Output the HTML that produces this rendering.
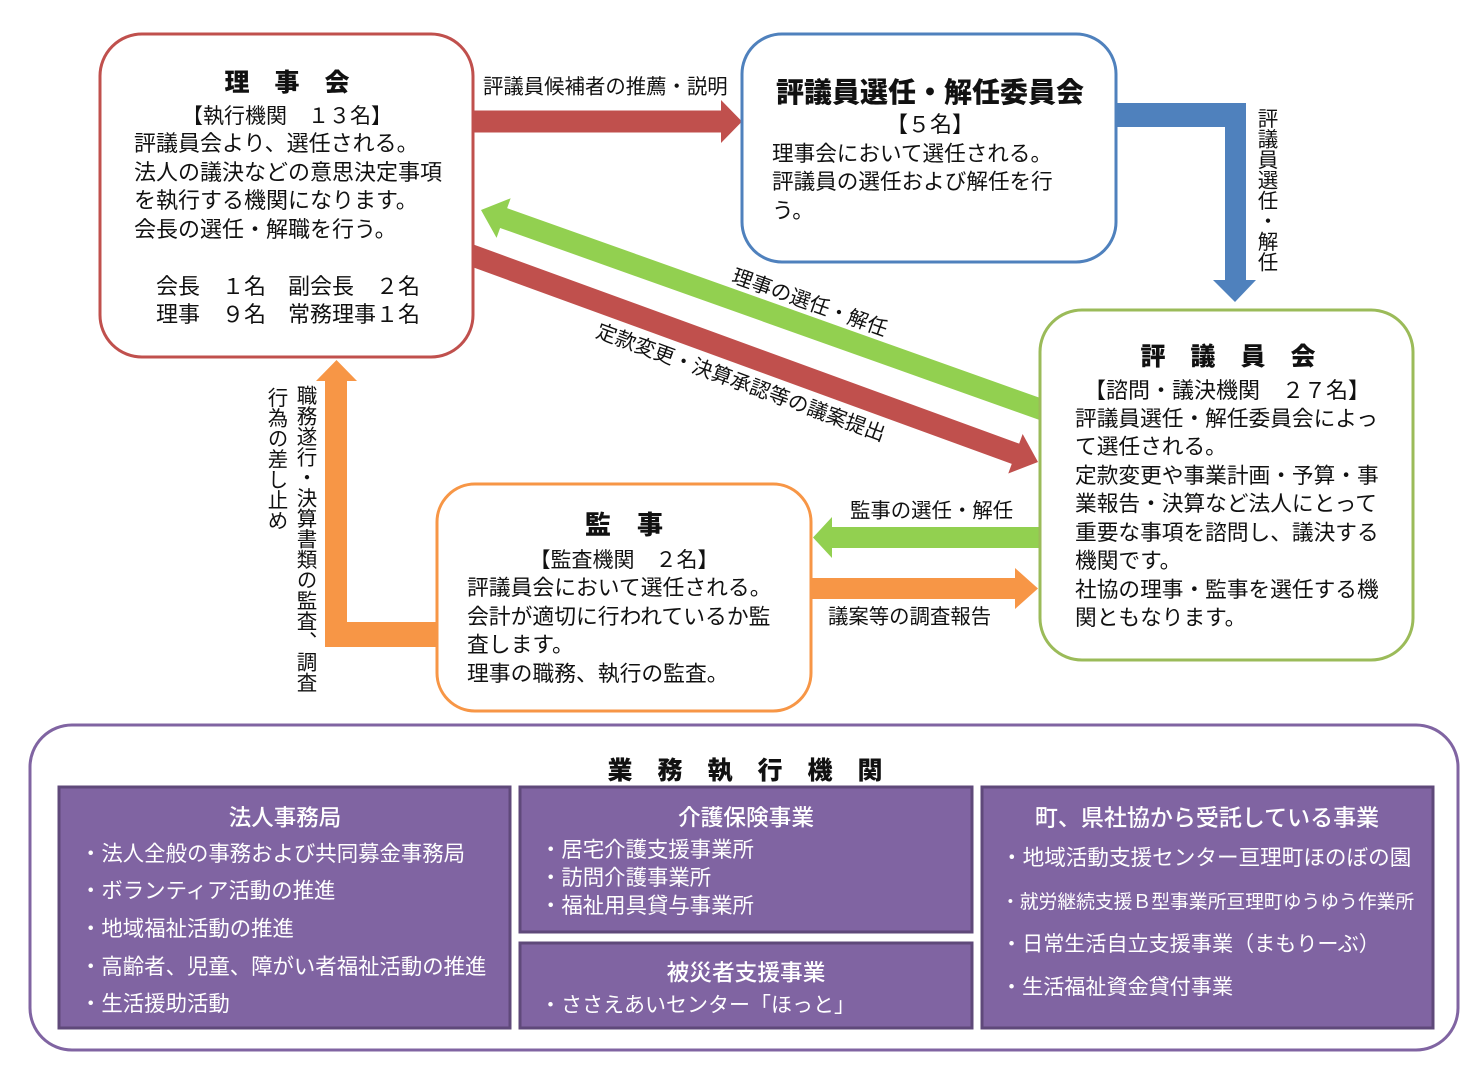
<!DOCTYPE html>
<html><head><meta charset="utf-8">
<style>
html,body{margin:0;padding:0;background:#fff;}
body{width:1483px;height:1089px;overflow:hidden;position:relative;font-family:"Liberation Sans","Noto Sans CJK JP",sans-serif;}
svg{position:absolute;left:0;top:0;}
svg text{font-family:"Liberation Sans","Noto Sans CJK JP",sans-serif;}
.v{position:absolute;writing-mode:vertical-rl;font-size:20.5px;line-height:21px;white-space:nowrap;color:#111;font-family:"Liberation Sans","Noto Sans CJK JP",sans-serif;}
</style></head>
<body>
<svg width="1483" height="1089" viewBox="0 0 1483 1089">
  <!-- arrows -->
  <polygon fill="#c0504d" points="465,110.5 721,110.5 721,100 742,121.5 721,143 721,132.5 465,132.5"/>
  <polygon fill="#4f81bd" points="1110,103 1246,103 1246,280 1256,280 1235,302 1213,280 1225,280 1225,127 1110,127"/>
  <polygon fill="#92d050" transform="translate(481,210) rotate(19.6)" points="0,0 24,-21 24,-10.5 600,-10.5 600,10.5 24,10.5 24,21"/>
  <polygon fill="#c0504d" transform="translate(1038,462) rotate(20.05)" points="0,0 -24,-21 -24,-10.8 -610,-10.8 -610,10.8 -24,10.8 -24,21"/>
  <polygon fill="#f79646" points="336.5,360 357,381 347,381 347,622 445,622 445,647 325,647 325,381 316,381"/>
  <polygon fill="#92d050" points="813,537.5 832,517 832,527 1048,527 1048,548 832,548 832,558"/>
  <polygon fill="#f79646" points="805,578 1015,578 1015,568 1038,588.5 1015,609 1015,599 805,599"/>

  <!-- boxes -->
  <rect x="100" y="34" width="373" height="323" rx="42" ry="42" fill="#fff" stroke="#c0504d" stroke-width="3"/>
  <rect x="742" y="34" width="374" height="228" rx="40" ry="40" fill="#fff" stroke="#4f81bd" stroke-width="3"/>
  <rect x="1040" y="310" width="373" height="350" rx="42" ry="42" fill="#fff" stroke="#9bbb59" stroke-width="3"/>
  <rect x="437" y="484" width="374" height="227" rx="38" ry="38" fill="#fff" stroke="#f79646" stroke-width="3"/>

  <!-- box1 text -->
  <g fill="#111">
    <text x="287" y="91" font-size="25" font-weight="900" text-anchor="middle">理　事　会</text>
    <text x="287" y="123" font-size="21" text-anchor="middle">【執行機関　１３名】</text>
    <g font-size="22">
      <text x="134" y="151">評議員会より、選任される。</text>
      <text x="134" y="180">法人の議決などの意思決定事項</text>
      <text x="134" y="208">を執行する機関になります。</text>
      <text x="134" y="237">会長の選任・解職を行う。</text>
      <text x="134" y="294">　会長　１名　副会長　２名</text>
      <text x="134" y="322">　理事　９名　常務理事１名</text>
    </g>
  </g>

  <!-- box2 text -->
  <g fill="#111">
    <text x="930" y="102" font-size="28" font-weight="900" text-anchor="middle">評議員選任・解任委員会</text>
    <text x="930" y="132" font-size="22" text-anchor="middle">【５名】</text>
    <g font-size="21.6">
      <text x="772" y="161">理事会において選任される。</text>
      <text x="772" y="189">評議員の選任および解任を行</text>
      <text x="772" y="218">う。</text>
    </g>
  </g>

  <!-- box3 text -->
  <g fill="#111">
    <text x="1228" y="365" font-size="25" font-weight="900" text-anchor="middle">評　議　員　会</text>
    <text x="1227" y="398" font-size="22" text-anchor="middle">【諮問・議決機関　２７名】</text>
    <g font-size="21.7">
      <text x="1075" y="426">評議員選任・解任委員会によっ</text>
      <text x="1075" y="454">て選任される。</text>
      <text x="1075" y="483">定款変更や事業計画・予算・事</text>
      <text x="1075" y="511">業報告・決算など法人にとって</text>
      <text x="1075" y="540">重要な事項を諮問し、議決する</text>
      <text x="1075" y="568">機関です。</text>
      <text x="1075" y="597">社協の理事・監事を選任する機</text>
      <text x="1075" y="625">関ともなります。</text>
    </g>
  </g>

  <!-- box4 text -->
  <g fill="#111">
    <text x="624" y="534" font-size="26" font-weight="900" text-anchor="middle">監　事</text>
    <text x="624" y="567" font-size="21" text-anchor="middle">【監査機関　２名】</text>
    <g font-size="21.8">
      <text x="467" y="595">評議員会において選任される。</text>
      <text x="467" y="624">会計が適切に行われているか監</text>
      <text x="467" y="652">査します。</text>
      <text x="467" y="681">理事の職務、執行の監査。</text>
    </g>
  </g>

  <!-- arrow labels -->
  <g fill="#111" font-size="20.4">
    <text x="483" y="93.5">評議員候補者の推薦・説明</text>
    <text x="850" y="517.5">監事の選任・解任</text>
    <text x="828" y="623.5">議案等の調査報告</text>
    <text transform="rotate(19.6 810 302)" x="810" y="309.5" text-anchor="middle">理事の選任・解任</text>
    <text transform="rotate(20.05 741 382)" x="741" y="389.5" text-anchor="middle">定款変更・決算承認等の議案提出</text>
  </g>

  <!-- bottom -->
  <rect x="30" y="725" width="1428" height="325" rx="42" ry="42" fill="#fff" stroke="#8064a2" stroke-width="3"/>
  <text x="745" y="779" font-size="25" font-weight="900" text-anchor="middle" fill="#111">業　務　執　行　機　関</text>

  <g fill="#8064a2" stroke="#5f497a" stroke-width="3">
    <rect x="59" y="787" width="451" height="241"/>
    <rect x="520" y="787" width="452" height="145"/>
    <rect x="520" y="943" width="452" height="85"/>
    <rect x="982" y="787" width="451" height="241"/>
  </g>

  <g fill="#fff">
    <text x="285" y="825.5" font-size="22.5" font-weight="500" text-anchor="middle">法人事務局</text>
    <g font-size="21.4">
      <text x="80" y="861">・法人全般の事務および共同募金事務局</text>
      <text x="80" y="898">・ボランティア活動の推進</text>
      <text x="80" y="936">・地域福祉活動の推進</text>
      <text x="80" y="974">・高齢者、児童、障がい者福祉活動の推進</text>
      <text x="80" y="1011">・生活援助活動</text>
    </g>

    <text x="746" y="825.5" font-size="22.7" font-weight="500" text-anchor="middle">介護保険事業</text>
    <g font-size="21.4">
      <text x="540" y="857">・居宅介護支援事業所</text>
      <text x="540" y="885">・訪問介護事業所</text>
      <text x="540" y="913">・福祉用具貸与事業所</text>
    </g>

    <text x="746" y="980.5" font-size="22.7" font-weight="500" text-anchor="middle">被災者支援事業</text>
    <text x="540" y="1012" font-size="21">・ささえあいセンター「ほっと」</text>

    <text x="1207" y="825.5" font-size="23" font-weight="500" text-anchor="middle">町、県社協から受託している事業</text>
    <text x="1001" y="865" font-size="21.6">・地域活動支援センター亘理町ほのぼの園</text>
    <text x="1001" y="908" font-size="18.8">・就労継続支援Ｂ型事業所亘理町ゆうゆう作業所</text>
    <text x="1001" y="951" font-size="21.1">・日常生活自立支援事業（まもりーぶ）</text>
    <text x="1001" y="994" font-size="21.1">・生活福祉資金貸付事業</text>
  </g>
</svg>

<div class="v" style="left:1255px;top:108px;">評議員選任・解任</div>
<div class="v" style="left:294px;top:385px;">職務遂行・決算書類の監査、調査</div>
<div class="v" style="left:265px;top:387px;">行為の差し止め</div>
</body></html>
